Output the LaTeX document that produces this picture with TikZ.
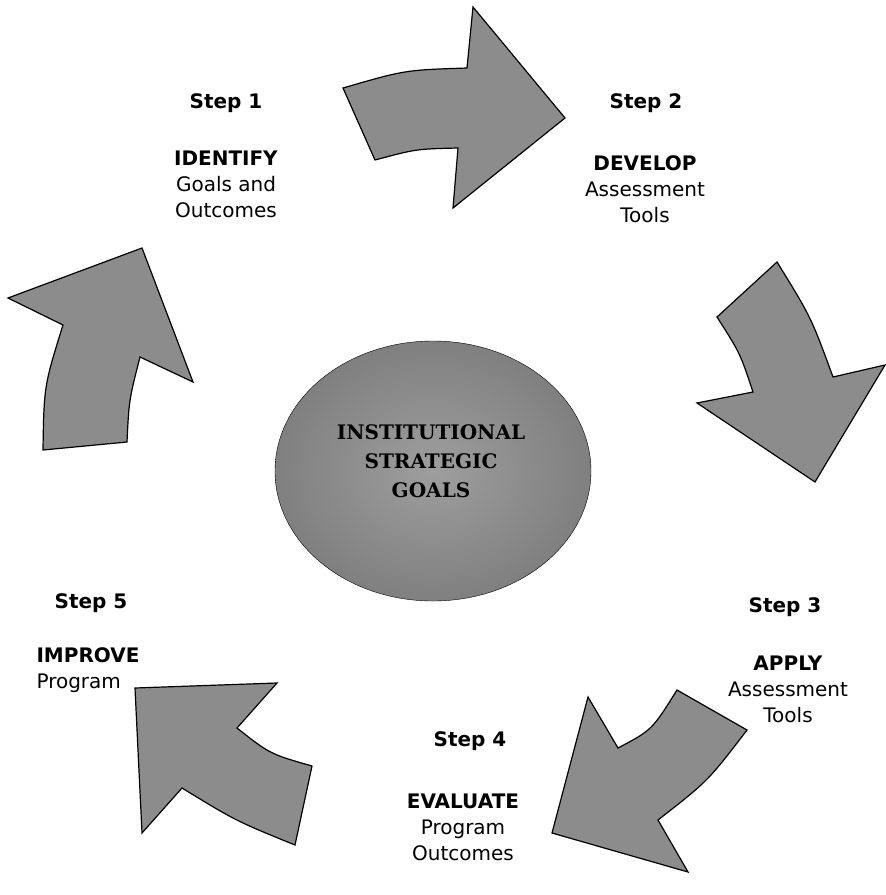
\documentclass[tikz,border=0pt]{standalone}
\usepackage{fontspec}
\setmainfont{DejaVu Sans}
\newfontfamily\goalfont{DejaVu Serif}
\usetikzlibrary{shapes.geometric}

\begin{document}
\begin{tikzpicture}[x=1pt,y=-1pt,
  cycle arrow/.style={fill=black!45,draw=black,line width=1.2pt,line join=miter},
  step title/.style={font=\fontsize{20}{26}\selectfont\bfseries},
  step text/.style={font=\fontsize{20}{26}\selectfont,align=center}]

  \useasboundingbox (0,0) rectangle (886,895);

  % centre
  \node[ellipse,draw=black,inner color=black!38,outer color=black!50,
    minimum width=316pt,minimum height=260pt]  (goal) at (433,471) {};
  \node[font=\goalfont\fontsize{20}{29}\selectfont\bfseries,align=center]  (goaltext) at (431,461)
    {INSTITUTIONAL\\STRATEGIC\\GOALS};

  % the five steps
  \node[step title]  (s1) at (226,103) {Step 1};
  \node[step text]  (t1) at (226,184) {\textbf{IDENTIFY}\\Goals and\\Outcomes};
  \node[step title]  (s2) at (646,103) {Step 2};
  \node[step text]  (t2) at (645,189) {\textbf{DEVELOP}\\Assessment\\Tools};
  \node[step title]  (s3) at (785,607) {Step 3};
  \node[step text]  (t3) at (788,689) {\textbf{APPLY}\\Assessment\\Tools};
  \node[step title]  (s4) at (470,741) {Step 4};
  \node[step text]  (t4) at (463,827) {\textbf{EVALUATE}\\Program\\Outcomes};
  \node[step title]  (s5) at (91,603) {Step 5};
  \node[step text,align=left,anchor=west]  (t5) at (33,670) {\textbf{IMPROVE}\\Program};

  % block arrows round the cycle
  \draw[cycle arrow] (458,148) .. controls (416,149) .. (375,160) -- (343,88)
    .. controls (405,70) .. (467,68) -- (473,7) -- (565,118) -- (453,208) -- cycle;
  \draw[cycle arrow] (753,392) .. controls (740,353) .. (717,317) -- (777,262)
    .. controls (811,317) .. (833,377) -- (885,365) -- (815,482) -- (697,403) -- cycle;
  \draw[cycle arrow] (618,748) .. controls (652,730) .. (677,690) -- (747,730)
    .. controls (708,781) .. (658,820) -- (688,872) -- (552,833) -- (588,697) -- cycle;
  \draw[cycle arrow] (237,728) .. controls (270,754) .. (312,766) -- (295,845)
    .. controls (236,821) .. (182,788) -- (142,833) -- (135,688) -- (277,683) -- cycle;
  \draw[cycle arrow] (140,357) .. controls (129,400) .. (127,442) -- (43,450)
    .. controls (44,386) .. (63,325) -- (8,298) -- (142,248) -- (193,382) -- cycle;
\end{tikzpicture}
\end{document}
